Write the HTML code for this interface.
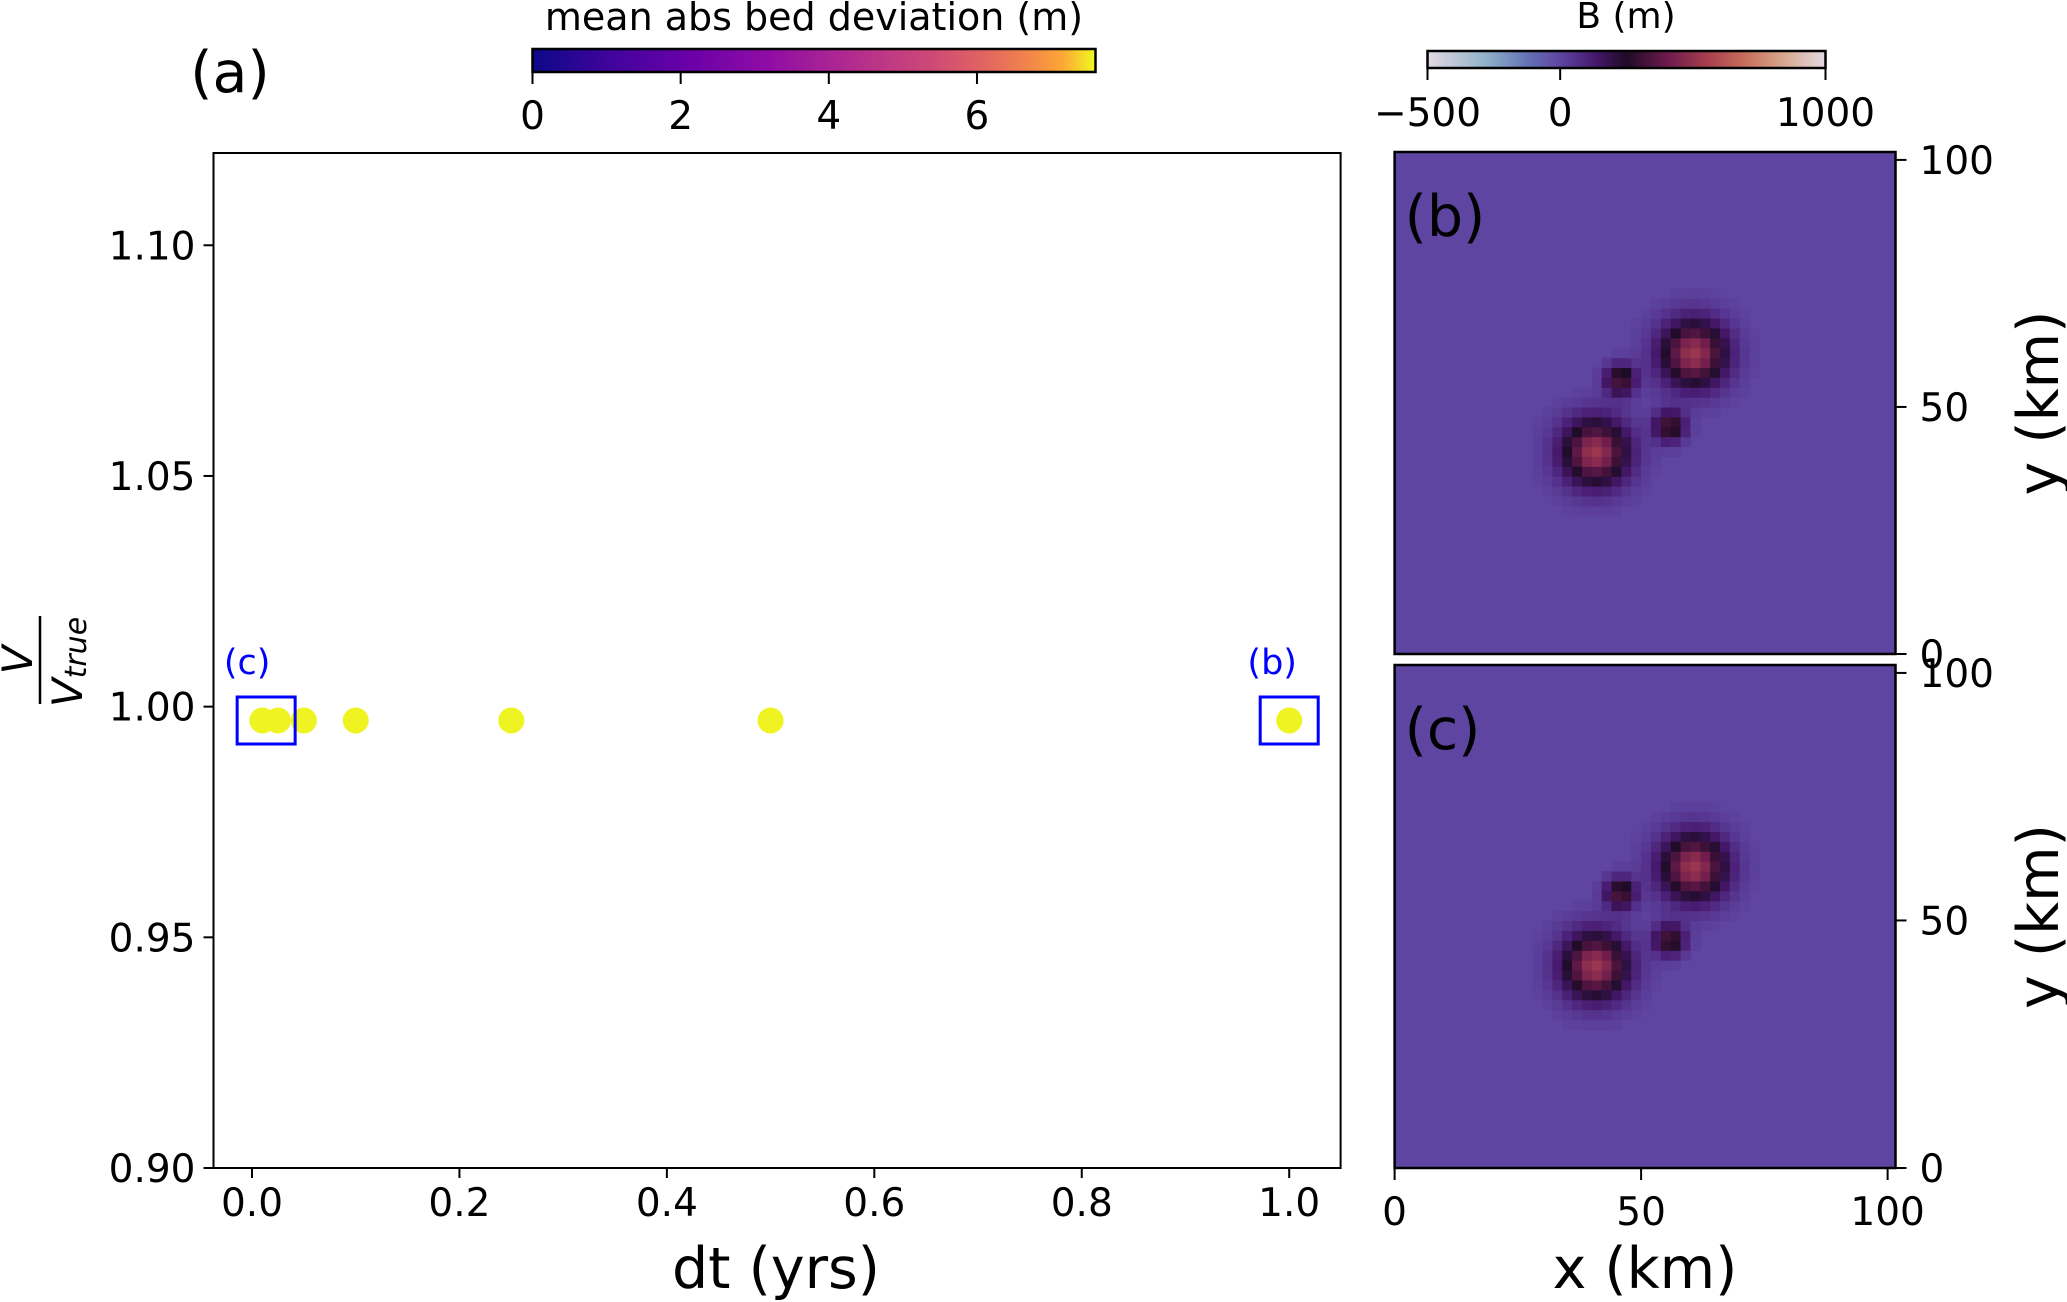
<!DOCTYPE html>
<html><head><meta charset="utf-8"><style>
html,body{margin:0;padding:0;background:#fff;}
svg{display:block;font-family:"DejaVu Sans","Liberation Sans",sans-serif;}
</style></head><body>
<svg id="fig" width="2067" height="1302" viewBox="0 0 2067 1302" xmlns="http://www.w3.org/2000/svg">
<defs>
<linearGradient id="plasma" x1="0" x2="1" y1="0" y2="0">
<stop offset="0" stop-color="#0d0887"/><stop offset="0.14" stop-color="#41049d"/><stop offset="0.28" stop-color="#6a00a8"/><stop offset="0.42" stop-color="#8f0da4"/><stop offset="0.56" stop-color="#b12a90"/><stop offset="0.7" stop-color="#cc4778"/><stop offset="0.8" stop-color="#e16462"/><stop offset="0.88" stop-color="#f2844b"/><stop offset="0.94" stop-color="#fca636"/><stop offset="1" stop-color="#f0f921"/>
</linearGradient>
<linearGradient id="twil" x1="0" x2="1" y1="0" y2="0">
<stop offset="0" stop-color="#e2d9e2"/><stop offset="0.15" stop-color="#8fb0c9"/><stop offset="0.25" stop-color="#6373b6"/><stop offset="0.333" stop-color="#5e45a1"/><stop offset="0.42" stop-color="#47186d"/><stop offset="0.5" stop-color="#1e0b27"/><stop offset="0.6" stop-color="#6b1a4e"/><stop offset="0.7" stop-color="#a63d4e"/><stop offset="0.8" stop-color="#c8705c"/><stop offset="0.9" stop-color="#d8aa92"/><stop offset="1" stop-color="#e2d9e2"/>
</linearGradient>
</defs>
<g id="main"></g>
<g id="cbars"></g>
<g id="maps"></g>
</svg>
<script>
// ---- Data ----
const dtValues = [0.01, 0.025, 0.05, 0.1, 0.25, 0.5, 1.0];
const volRatio = [0.997, 0.997, 0.997, 0.997, 0.997, 0.997, 0.997];
const xTicks = [0.0, 0.2, 0.4, 0.6, 0.8, 1.0];
const xTickLabels = ["0.0","0.2","0.4","0.6","0.8","1.0"];
const yTicks = [0.90, 0.95, 1.00, 1.05, 1.10];
const yTickLabels = ["0.90","0.95","1.00","1.05","1.10"];
const cb1Ticks = [0, 2, 4, 6];
const cb2Ticks = [-500, 0, 1000];
const cb2Labels = ["\u2212500","0","1000"];
const mapTicks = [0, 50, 100];
// bed bumps (km, m)
const bumpX = [60.7, 40.7, 45.8, 55.8];
const bumpY = [60.9, 40.9, 55.6, 46.2];
const bumpAmp = [520, 520, 360, 360];
const bumpSig = [4.6, 4.6, 2.1, 2.1];

const NS = "http://www.w3.org/2000/svg";
function mk(parent, tag, attrs, text){
  const e = document.createElementNS(NS, tag);
  for (const k in attrs) e.setAttribute(k, attrs[k]);
  if (text !== undefined) e.textContent = text;
  parent.appendChild(e);
  return e;
}
const TF = 39, BF = 57;
// ---- Main axes ----
const main = document.getElementById('main');
const L=213.5, R=1340.6, T=153, B=1168;
const xScale = v => 252 + v*(1289.2-252);
const yScale = v => 1168 - (v-0.90)/0.22*(1168-153);
let t;
for (let i=0;i<xTicks.length;i++){
  const x = xScale(xTicks[i]);
  t = mk(main,'line',{x1:x,x2:x,y1:B,y2:B+10,stroke:'#000','stroke-width':2});
  
  
  t = mk(main,'text',{x:x,y:B+48,'text-anchor':'middle','font-size':TF},xTickLabels[i]);
  
  
}
for (let i=0;i<yTicks.length;i++){
  const y = yScale(yTicks[i]);
  t = mk(main,'line',{x1:L-10,x2:L,y1:y,y2:y,stroke:'#000','stroke-width':2});
  
  
  t = mk(main,'text',{x:L-18,y:y+14,'text-anchor':'end','font-size':TF},yTickLabels[i]);
  
  
}
for (let i=0;i<dtValues.length;i++){
  t = mk(main,'circle',{cx:xScale(dtValues[i]),cy:yScale(volRatio[i]),r:13,fill:'#eff322'});
  
  
}
t = mk(main,'rect',{x:L,y:T,width:R-L,height:B-T,fill:'none',stroke:'#000','stroke-width':2});


// highlight boxes
const boxC = xScale(0.0175)-4, boxB = xScale(1.0);
t = mk(main,'rect',{x:boxC-29,y:697,width:58,height:47,fill:'none',stroke:'#0000ff','stroke-width':3});


t = mk(main,'text',{x:boxC-19,y:674,'text-anchor':'middle','font-size':35,fill:'#0000ff'},'(c)');


t = mk(main,'rect',{x:boxB-29,y:697,width:58,height:47,fill:'none',stroke:'#0000ff','stroke-width':3});


t = mk(main,'text',{x:boxB-17,y:674,'text-anchor':'middle','font-size':35,fill:'#0000ff'},'(b)');


t = mk(main,'text',{x:776,y:1288,'text-anchor':'middle','font-size':BF},'dt (yrs)');


t = mk(main,'text',{x:230,y:92,'text-anchor':'middle','font-size':BF},'(a)');


// y label fraction
const yl = mk(main,'g',{transform:'translate(40,660) rotate(-90)'});


mk(yl,'text',{x:0,y:-8,'text-anchor':'middle','font-size':42,'font-style':'italic'},'V');
mk(yl,'line',{x1:-44,x2:44,y1:0,y2:0,stroke:'#000','stroke-width':2.5});
const vt = mk(yl,'text',{x:-2,y:42,'text-anchor':'middle','font-size':42,'font-style':'italic'},'V');
const sub = mk(yl,'tspan',{dy:4,'font-size':30},'true');
vt.appendChild(sub);

// ---- Colorbars ----
const cb = document.getElementById('cbars');
const c1L=532.5, c1R=1095.5, c1T=49, c1B=72, c1Max=7.6;
t = mk(cb,'rect',{x:c1L,y:c1T,width:c1R-c1L,height:c1B-c1T,fill:'url(#plasma)',stroke:'#000','stroke-width':2.5});


for (const v of cb1Ticks){
  const x = c1L + v/c1Max*(c1R-c1L);
  t = mk(cb,'line',{x1:x,x2:x,y1:c1B,y2:c1B+12,stroke:'#000','stroke-width':2});
  
  
  t = mk(cb,'text',{x:x,y:129,'text-anchor':'middle','font-size':TF},String(v));
  
  
}
t = mk(cb,'text',{x:814,y:30,'text-anchor':'middle','font-size':38},'mean abs bed deviation (m)');


const c2L=1427.5, c2R=1825.5, c2T=51, c2B=68;
t = mk(cb,'rect',{x:c2L,y:c2T,width:c2R-c2L,height:c2B-c2T,fill:'url(#twil)',stroke:'#000','stroke-width':2.5});


for (let i=0;i<cb2Ticks.length;i++){
  const x = c2L + (cb2Ticks[i]+500)/1500*(c2R-c2L);
  t = mk(cb,'line',{x1:x,x2:x,y1:c2B,y2:c2B+12,stroke:'#000','stroke-width':2});
  
  
  t = mk(cb,'text',{x:x,y:126,'text-anchor':'middle','font-size':TF},cb2Labels[i]);
  
  
}
t = mk(cb,'text',{x:1626,y:28,'text-anchor':'middle','font-size':36},'B (m)');



// ---- Maps ----
const stops=[[0,[226,217,226]],[0.15,[143,176,201]],[0.25,[99,115,182]],[0.333,[94,69,161]],[0.42,[71,24,109]],[0.5,[30,11,39]],[0.6,[107,26,78]],[0.7,[166,61,78]],[0.8,[200,112,92]],[0.9,[216,170,146]],[1,[226,217,226]]];
function cmap(v){
  let f=(v+500)/1500; f=Math.max(0,Math.min(1,f));
  for(let i=1;i<stops.length;i++){ if(f<=stops[i][0]){const a=stops[i-1],b=stops[i];const u=(f-a[0])/(b[0]-a[0]);
    return 'rgb('+a[1].map((c,k)=>Math.round(c+(b[1][k]-c)*u)).join(',')+')';}}
  return 'rgb(226,217,226)';
}
const maps = document.getElementById('maps');
const mL=1394.6, mR=1895.5, ext=101.6;
function drawMap(top, bottom, label, name){
  const g = mk(maps,'g',{});
  
  
  const sx = (mR-mL)/ext, sy=(bottom-top)/ext;
  mk(g,'rect',{x:mL,y:top,width:mR-mL,height:bottom-top,fill:cmap(0)});
  const cell=2;
  for(let gx=0;gx<ext;gx+=cell){ for(let gy=0;gy<ext;gy+=cell){
    const cx=gx+1, cy=gy+1; let v=0;
    for(let k=0;k<bumpX.length;k++){const d2=(cx-bumpX[k])**2+(cy-bumpY[k])**2; v+=bumpAmp[k]*Math.exp(-d2/(2*bumpSig[k]**2));}
    if(v>8){ const r=mk(g,'rect',{x:mL+gx*sx,y:bottom-(gy+cell)*sy,width:cell*sx+0.6,height:cell*sy+0.6,fill:cmap(v)});
      
       }
  }}
  mk(g,'rect',{x:mL,y:top,width:mR-mL,height:bottom-top,fill:'none',stroke:'#000','stroke-width':2.5});
  for(const v of mapTicks){
    const y = bottom - v*sy;
    mk(g,'line',{x1:mR,x2:mR+11,y1:y,y2:y,stroke:'#000','stroke-width':2});
    mk(g,'text',{x:mR+24,y:y+14,'font-size':TF},String(v));
  }
  const lt = mk(g,'text',{x:mL+10,y:top+84,'font-size':BF},label);
  
  
  const yt = mk(g,'text',{transform:'translate(2058,'+((top+bottom)/2)+') rotate(-90)','text-anchor':'middle','font-size':BF},'y (km)');
  
  
  return sx;
}
drawMap(152,654,'(b)','map-b');
const sx = drawMap(665,1168,'(c)','map-c');
for(const v of mapTicks){
  const x = mL + v*sx;
  t = mk(maps,'line',{x1:x,x2:x,y1:1168,y2:1180,stroke:'#000','stroke-width':2});
  
  
  t = mk(maps,'text',{x:x,y:1225,'text-anchor':'middle','font-size':TF},String(v));
  
  
}
t = mk(maps,'text',{x:1645,y:1288,'text-anchor':'middle','font-size':BF},'x (km)');


</script>
</body></html>
